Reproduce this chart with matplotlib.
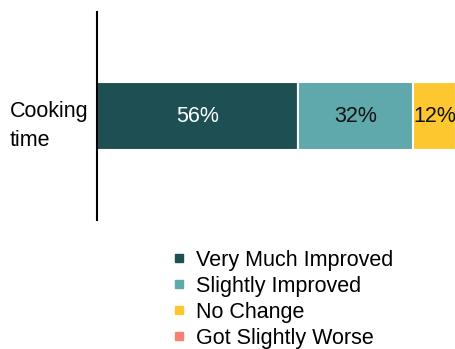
import matplotlib
matplotlib.use("Agg")
import matplotlib.pyplot as plt
from matplotlib.lines import Line2D

categories = ["Cooking\ntime"]
series_names = ["Very Much Improved", "Slightly Improved", "No Change", "Got Slightly Worse"]
series_values = [[56], [32], [12], [0]]
colors = ["#1d4f53", "#5fa8ab", "#fdc82f", "#fb8072"]
label_colors = ["white", "#111111", "#111111", "#111111"]

plt.rcParams["font.family"] = ["Liberation Sans", "DejaVu Sans"]
FS = 15.5

W, H = 456, 349
fig = plt.figure(figsize=(W / 100, H / 100), dpi=100)
ax = fig.add_axes([97 / W, (H - 220) / H, 1 - 97 / W, 208 / H])

ypos = list(range(len(categories)))
left = [0] * len(categories)
for name, vals, col, lc in zip(series_names, series_values, colors, label_colors):
    bars = ax.barh(ypos, vals, left=left, height=0.327, color=col,
                   edgecolor="white", linewidth=1.5, label=name)
    for b, v in zip(bars, vals):
        if v > 0:
            ax.text(b.get_x() + b.get_width() / 2, b.get_y() + b.get_height() / 2,
                    f"{v}%", ha="center", va="center", color=lc, fontsize=FS)
    left = [l + v for l, v in zip(left, vals)]

ax.set_xlim(0, 100)
ax.set_ylim(-0.5, 0.5)
ax.set_xticks([])
ax.set_yticks([])

# category labels, left-aligned in the margin beside the axis line
for y, cat in zip(ypos, categories):
    ax.annotate(cat, xy=(0, y), xycoords=("axes fraction", "data"),
                xytext=(-87, -29.5), textcoords="offset pixels",
                ha="left", va="baseline", fontsize=FS, linespacing=1.49,
                annotation_clip=False)

for s in ["top", "right", "bottom"]:
    ax.spines[s].set_visible(False)
ax.spines["left"].set_linewidth(1.5)
ax.spines["left"].set_color("black")
ax.spines["left"].set_zorder(3)

handles = [Line2D([], [], marker="s", linestyle="", markersize=5.8,
                  markerfacecolor=c, markeredgecolor=c) for c in colors]
fig.legend(handles, series_names, loc="upper left",
           bbox_to_anchor=(168 / W, (H - 250) / H), frameon=False,
           fontsize=FS, borderpad=0, handlelength=1.0, handletextpad=0.3,
           labelspacing=0.23, borderaxespad=0)

fig.savefig("out.png", dpi=100)
